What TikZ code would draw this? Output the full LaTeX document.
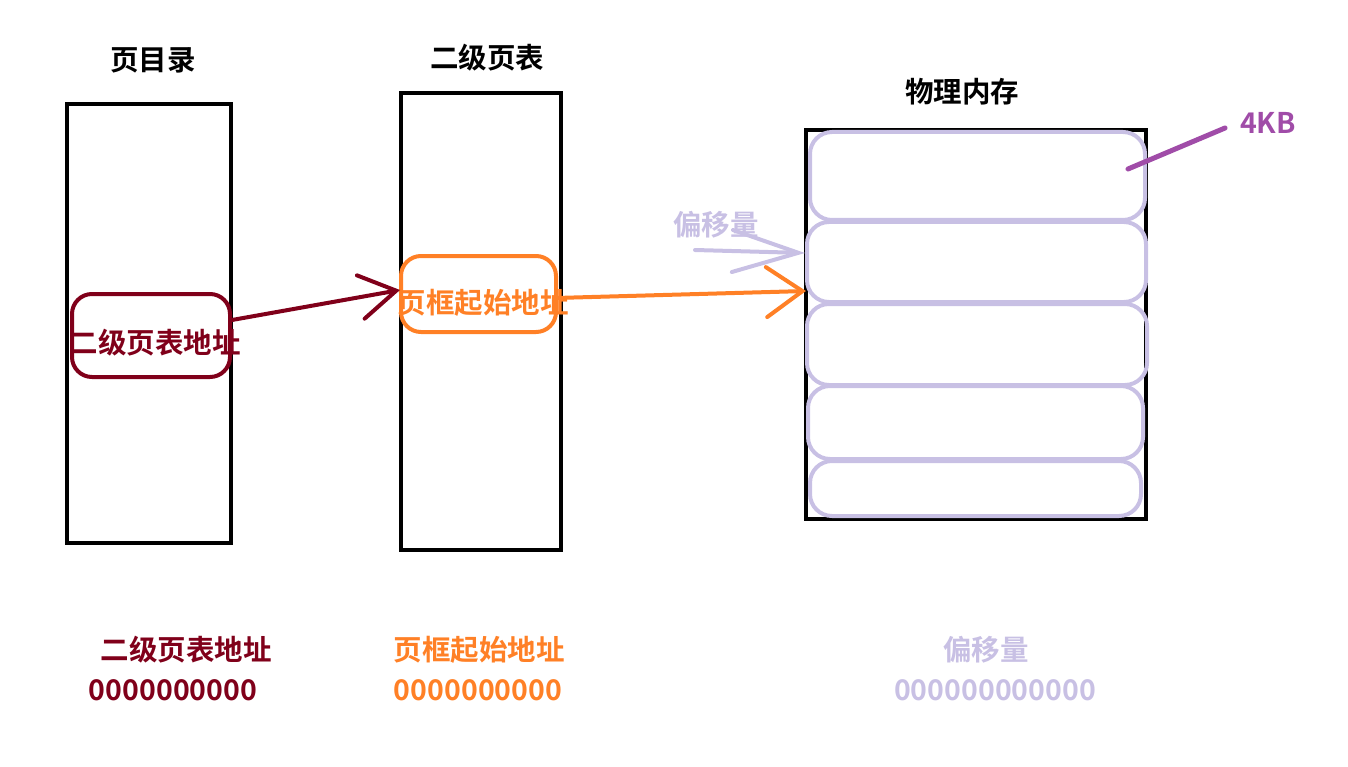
\documentclass[tikz,border=0pt]{standalone}
\usepackage{fontspec}
\setmainfont{Noto Sans CJK SC}[BoldFont={Noto Sans CJK SC Bold}]
\usetikzlibrary{arrows.meta}
\definecolor{dred}{RGB}{128,0,26}
\definecolor{orng}{RGB}{255,128,38}
\definecolor{lav}{RGB}{200,192,228}
\definecolor{purp}{RGB}{160,76,168}
\begin{document}
\begin{tikzpicture}[x=1pt,y=-1pt,
  txt/.style={font=\fontsize{28.5}{31}\selectfont\bfseries, inner sep=0pt},
  col/.style={draw=black, line width=4.5pt, inner sep=0pt},
  pill/.style={draw=lav, line width=4pt, rounded corners=22pt, inner sep=0pt},
  sel/.style={line width=4pt, rounded corners=20pt, inner sep=0pt},
  conn/.style={line width=4pt, line cap=round}]
\useasboundingbox (0,0) rectangle (1348,767);
% titles
\node[txt] (t1) at (153,60) {页目录};
\node[txt] (t2) at (487,58) {二级页表};
\node[txt] (t3) at (962,92) {物理内存};
% columns
\node[col, minimum width=164pt, minimum height=439pt] (pd) at (149,323.5) {};
\node[col, minimum width=160pt, minimum height=457pt] (pt) at (481,321.5) {};
\node[col, minimum width=340pt, minimum height=389pt] (pm) at (976,324.5) {};
% memory pages
\node[pill, minimum width=335pt, minimum height=88pt] (m1) at (977.5,176) {};
\node[pill, minimum width=339pt, minimum height=80pt] (m2) at (976.5,262) {};
\node[pill, minimum width=340pt, minimum height=81pt] (m3) at (977,344.5) {};
\node[pill, minimum width=335pt, minimum height=73pt] (m4) at (975.5,422.5) {};
\node[pill, minimum width=331pt, minimum height=55pt] (m5) at (975.5,488.5) {};
% entries
\node[sel, draw=dred, minimum width=158pt, minimum height=83pt] (e1) at (151,335.5) {};
\node[txt, text=dred] (e1t) at (155,343) {二级页表地址};
\node[sel, draw=orng, minimum width=155pt, minimum height=76pt] (e2) at (478.5,294) {};
\node[txt, text=orng] (e2t) at (483,303) {页框起始地址};
% arrows
\coordinate (a1s) at (232,320);
\coordinate (a1e) at (400,290);
\draw[conn, draw=dred, -{Straight Barb[length=36pt,width=44pt,line cap=round]}] (a1s) -- (a1e);
\coordinate (a2s) at (556,298);
\coordinate (a2e) at (806,291);
\draw[conn, draw=orng, -{Straight Barb[length=36pt,width=50pt,line cap=round]}] (a2s) -- (a2e);
\node[txt, text=lav] (off) at (716,225) {偏移量};
\coordinate (a3s) at (695,250);
\coordinate (a3e) at (805,253);
\draw[conn, draw=lav, -{Straight Barb[length=66pt,width=42pt,line cap=round]}] (a3s) -- (a3e);
% 4KB
\node[txt, text=purp] (kb) at (1268,123) {4KB};
\coordinate (kbs) at (1128,169);
\coordinate (kbe) at (1225,128);
\draw[line width=5pt, line cap=round, draw=purp] (kbs) -- (kbe);
% bottom labels
\node[txt, text=dred] (b1) at (186,650) {二级页表地址};
\node[txt, text=dred] (b1n) at (173,690) {0000000000};
\node[txt, text=orng] (b2) at (479,650) {页框起始地址};
\node[txt, text=orng] (b2n) at (478,690) {0000000000};
\node[txt, text=lav] (b3) at (986,650) {偏移量};
\node[txt, text=lav] (b3n) at (995,690) {000000000000};
\end{tikzpicture}
\end{document}
